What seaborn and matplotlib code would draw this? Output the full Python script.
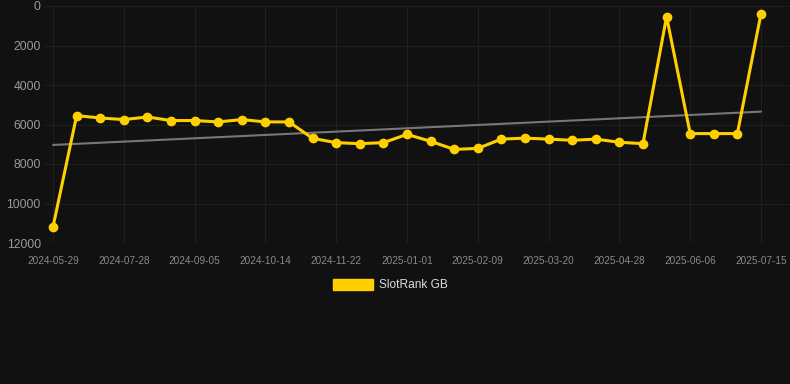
import numpy as np
import pandas as pd
import matplotlib.pyplot as plt
import seaborn as sns
from matplotlib.patches import Patch

# Data
dates = [
    "2024-05-29", "2024-06-18", "2024-07-08", "2024-07-28", "2024-08-10",
    "2024-08-23", "2024-09-05", "2024-09-18", "2024-10-01", "2024-10-14",
    "2024-10-27", "2024-11-09", "2024-11-22", "2024-12-05", "2024-12-18",
    "2025-01-01", "2025-01-14", "2025-01-27", "2025-02-09", "2025-02-22",
    "2025-03-07", "2025-03-20", "2025-04-02", "2025-04-15", "2025-04-28",
    "2025-05-11", "2025-05-24", "2025-06-06", "2025-06-19", "2025-07-02",
    "2025-07-15",
]
rank_gb = [
    11180, 5550, 5670, 5750, 5620, 5800, 5800, 5870, 5750, 5870,
    5870, 6700, 6920, 6970, 6920, 6500, 6850, 7260, 7210, 6740,
    6690, 6740, 6800, 6740, 6900, 6970, 540, 6460, 6460, 6460,
    390,
]
series_label = "SlotRank GB"

df = pd.DataFrame({"pos": range(len(dates)), "date": dates, "rank": rank_gb})

# Linear trend over the series
slope, intercept = np.polyfit(df["pos"], df["rank"], 1)
df["trend"] = intercept + slope * df["pos"]

# Style
sns.set_style("dark")
plt.rcParams["font.family"] = ["Liberation Sans", "DejaVu Sans"]

bg = "#111111"
gold = "#FFD000"

fig = plt.figure(figsize=(7.9, 3.84), dpi=100, facecolor=bg)
ax = fig.add_axes([45 / 790, 1 - 243 / 384, 745 / 790, 237 / 384])
ax.set_facecolor(bg)

sns.lineplot(data=df, x="pos", y="trend", ax=ax, color="#777777",
             linewidth=1.5, zorder=2)
sns.lineplot(data=df, x="pos", y="rank", ax=ax, color=gold, linewidth=2.2,
             marker="o", markersize=7, markeredgewidth=0, zorder=3)

ax.set_xlim(-0.34, 31.23)
ax.set_ylim(12000, 0)
ax.set_yticks(range(0, 12001, 2000))
ax.set_xticks(df["pos"][::3])
ax.set_xticklabels(df["date"][::3])

ax.grid(True, color="#1f1f1f", linewidth=0.8)
ax.set_axisbelow(True)
for s in ax.spines.values():
    s.set_visible(False)

ax.tick_params(axis="y", colors="#9a9a9a", labelsize=8.8, length=0, pad=3)
ax.tick_params(axis="x", colors="#8a8a8a", labelsize=7.2, length=0, pad=9)
ax.set_xlabel("")
ax.set_ylabel("")

handle = Patch(facecolor=gold, edgecolor=gold)
fig.legend([handle], [series_label], loc="center", bbox_to_anchor=(0.494, 1 - 285 / 384),
           frameon=False, fontsize=8.6, labelcolor="#dddddd",
           handlelength=3.4, handleheight=1.1, handletextpad=0.5)

plt.savefig("out.png", dpi=100, facecolor=bg)
plt.close()
